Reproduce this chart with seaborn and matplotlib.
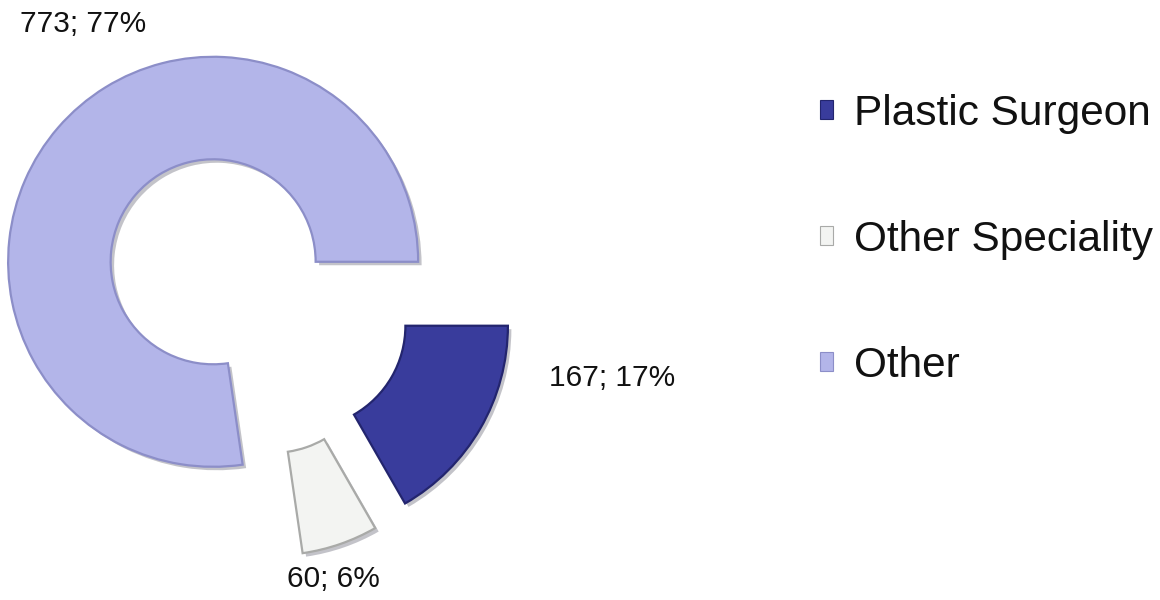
import matplotlib
matplotlib.use("Agg")
import matplotlib.pyplot as plt
import matplotlib.patheffects as pe
import seaborn as sns

# Respondents by specialty
categories = ["Plastic Surgeon", "Other Speciality", "Other"]
counts = [167, 60, 773]
percents = [17, 6, 77]

sns.set_theme(style="white")
plt.rcParams["font.family"] = ["Liberation Sans", "DejaVu Sans"]

colors = ["#393c9c", "#f3f4f2", "#b3b5e9"]
edges = ["#23256e", "#a9aaa8", "#8c8ec8"]

fig = plt.figure(figsize=(11.6, 6), dpi=100)
ax = fig.add_axes([0, 0, 1, 1])

wedges, _ = ax.pie(
    counts,
    colors=colors,
    startangle=0,
    counterclock=False,
    explode=[0.27] * len(counts),
    radius=1.0,
    wedgeprops=dict(width=0.5, linewidth=1.6),
    center=(0, 0),
)
for w, ec in zip(wedges, edges):
    w.set_edgecolor(ec)
    w.set_path_effects([
        pe.SimplePatchShadow(offset=(2.5, -2.5), shadow_rgbFace="#555566", alpha=0.35),
        pe.Normal(),
    ])

ax.set_aspect("equal")
ax.set_xlim(-255 / 205, (1160 - 255) / 205)
ax.set_ylim(-302 / 205, 298 / 205)
ax.axis("off")

# value labels beside each ring segment
label_pos = [(1.741, -0.390), (0.385, -1.370), (-0.839, 1.336)]
for (x, y), c, p in zip(label_pos, counts, percents):
    ax.text(x, y, f"{c}; {p}%", ha="center", va="center", fontsize=21.5, color="#111111")

leg = ax.legend(
    wedges, categories,
    loc="upper left",
    bbox_to_anchor=(0.674, 0.907),
    frameon=False,
    fontsize=30.5,
    handlelength=0.31,
    handleheight=0.31,
    handletextpad=0.5,
    labelspacing=2.03,
    labelcolor="#111111",
)
for h in leg.legend_handles:
    h.set_path_effects([])
    h.set_linewidth(0.8)

fig.savefig("out.png", dpi=100, facecolor="white")
